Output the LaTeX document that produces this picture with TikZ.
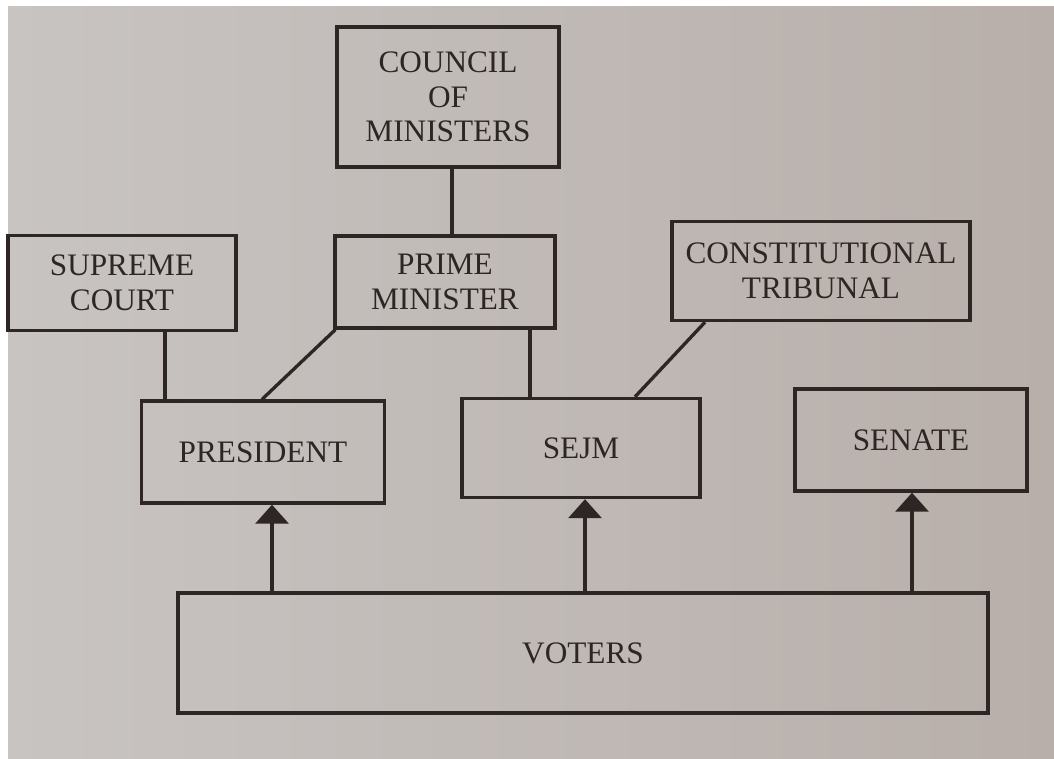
\documentclass[tikz,border=0pt]{standalone}
\usepackage{fontspec}
\setmainfont{Liberation Serif}
\usetikzlibrary{arrows.meta}
\definecolor{paperL}{RGB}{200,196,194}
\definecolor{paperR}{RGB}{184,175,170}
\definecolor{ink}{RGB}{45,38,36}
\begin{document}
\begin{tikzpicture}[x=0.02cm,y=-0.02cm,
  box/.style={draw=ink,line width=1.9pt,rectangle,align=center,inner sep=0pt,
    font=\fontsize{17.8}{19.8}\selectfont,text=ink},
  link/.style={draw=ink,line width=1.9pt},
  up/.style={link,-{Triangle[width=0.66cm,length=0.38cm]}}]
\useasboundingbox (0,0) rectangle (1054,758);
\fill[white] (0,0) rectangle (1054,758);
\shade[left color=paperL,right color=paperR] (8,6) rectangle (1054,758);
\node[box,minimum width=222*0.02cm,minimum height=140*0.02cm] (council) at (448,97) {COUNCIL\\OF\\MINISTERS};
\node[box,minimum width=228*0.02cm,minimum height=95*0.02cm] (supreme) at (122,283) {SUPREME\\COURT};
\node[box,minimum width=220*0.02cm,minimum height=92*0.02cm] (pm) at (445,282) {PRIME\\MINISTER};
\node[box,minimum width=298*0.02cm,minimum height=99*0.02cm] (tribunal) at (821,271) {CONSTITUTIONAL\\TRIBUNAL};
\node[box,minimum width=243*0.02cm,minimum height=102*0.02cm] (president) at (263,452) {PRESIDENT};
\node[box,minimum width=238*0.02cm,minimum height=99*0.02cm] (sejm) at (581,448) {SEJM};
\node[box,minimum width=232*0.02cm,minimum height=102*0.02cm] (senate) at (911,440) {SENATE};
\node[box,minimum width=810*0.02cm,minimum height=120*0.02cm] (voters) at (583,653) {VOTERS};
\draw[link] (council.south -| 452,0) -- (pm.north -| 452,0);
\draw[link] (supreme.south -| 165,0) -- (president.north -| 165,0);
\draw[link] ([xshift=2*0.02cm]pm.south west) -- (president.north -| 262,0);
\draw[link] (pm.south -| 530,0) -- (sejm.north -| 530,0);
\draw[link] (tribunal.south -| 705,0) -- (sejm.north -| 635,0);
\draw[up] (voters.north -| 272,0) -- (president.south -| 272,0);
\draw[up] (voters.north -| 585,0) -- (sejm.south -| 585,0);
\draw[up] (voters.north -| 912,0) -- (senate.south -| 912,0);
\end{tikzpicture}
\end{document}
